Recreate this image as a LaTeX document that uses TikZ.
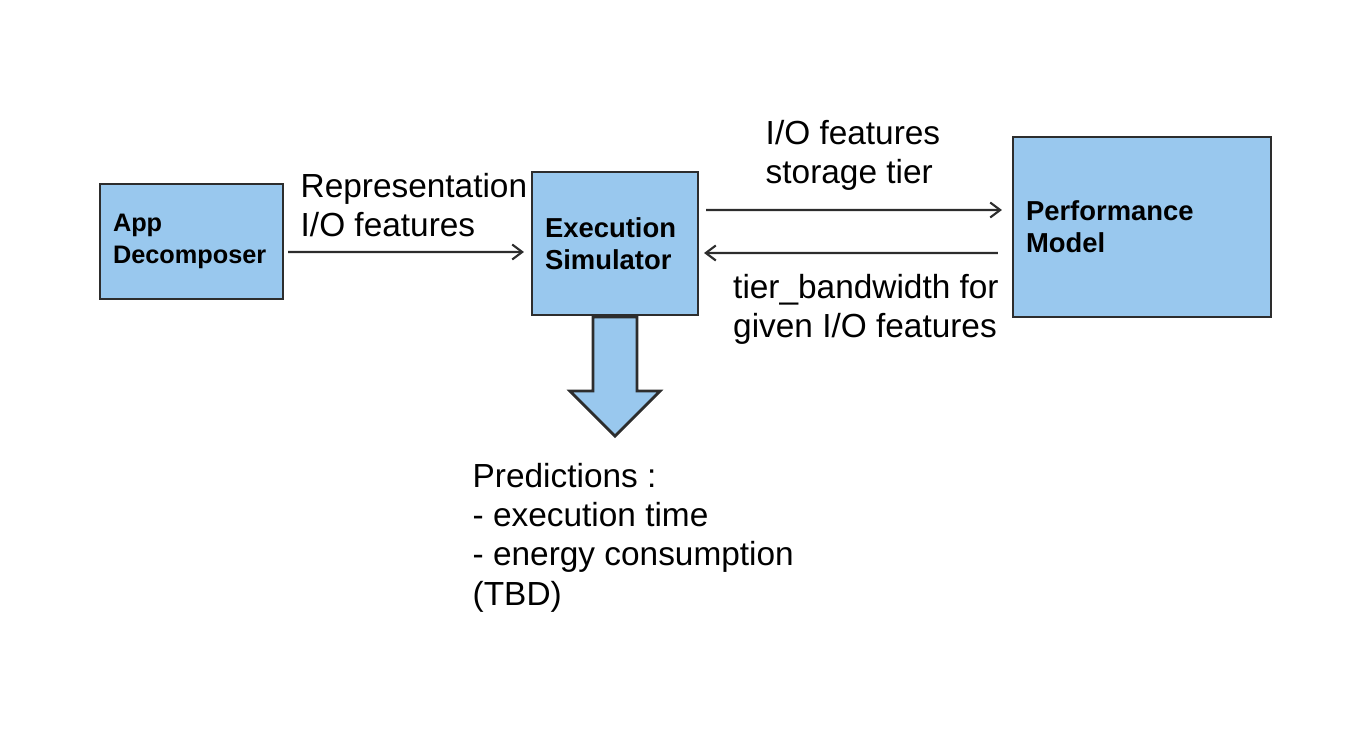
\documentclass[tikz,border=0pt]{standalone}
\usepackage{fontspec}
\setmainfont{Liberation Sans}
\usepackage{xcolor}
\usepackage{tikz}
\usetikzlibrary{calc}
\usetikzlibrary{positioning}
\usetikzlibrary{arrows.meta}
\definecolor{boxblue}{RGB}{153,200,238}
\definecolor{edgegray}{RGB}{45,45,45}

\begin{document}
\begin{tikzpicture}[
	block/.style={line width=0.6pt,draw=edgegray,fill=boxblue,inner xsep=0.13cm,inner ysep=0pt,align=left,font=\fontsize{7.8}{9.1}\bfseries\selectfont},
	flow/.style={line width=0.6pt,draw=edgegray,-{Straight Barb[length=1mm,width=1.5mm]}},
	fatarrow/.style={line width=0.8pt,draw=edgegray,fill=boxblue,line join=miter},
	note/.style={inner sep=0pt,anchor=base west,align=left,font=\fontsize{9.5}{11.1}\selectfont}]
	
	\useasboundingbox (0,0) rectangle (13.72,-7.31);
	
	% blocks
	\node[block,minimum width=1.83cm,minimum height=1.15cm,text width=1.57cm,font=\fontsize{7.2}{9.1}\bfseries\selectfont] (app) at (1.915,-2.415) {App\\Decomposer};
	\node[block,minimum width=1.66cm,minimum height=1.43cm,text width=1.40cm] (sim) at (6.15,-2.435) {Execution\\Simulator};
	\node[block,minimum width=2.58cm,minimum height=1.80cm,text width=2.32cm] (perf) at (11.42,-2.27) {Performance\\Model};
	
	%connections
	\draw[flow] ([shift={(0.04,-0.105)}]app.east) -- ([shift={(-0.07,-0.085)}]sim.west);
	\draw[flow] ([shift={(0.07,0.335)}]sim.east) -- ([shift={(-0.10,0.17)}]perf.west);
	\draw[flow] ([shift={(-0.14,-0.26)}]perf.west) -- ([shift={(0.05,-0.095)}]sim.east);
	
	%output arrow
	\draw[fatarrow] ([shift={(-0.22,-0.01)}]sim.south) -- ++(0,-0.74) -- ++(-0.23,0) -- ++(0.45,-0.45) -- ++(0.45,0.45) -- ++(-0.23,0) -- ++(0,0.74) -- cycle;
	
	%labels (placed at the baseline of their last line)
	\node[note] (replabel) at (3.00,-2.37) {Representation\\I/O features};
	\node[note] (featlabel) at (7.65,-1.84) {I/O features\\storage tier};
	\node[note] (bwlabel) at (7.325,-3.38) {tier\_bandwidth for\\given I/O features};
	\node[note] (predlabel) at (4.72,-6.05) {Predictions :\\- execution time\\- energy consumption\\(TBD)};
	
\end{tikzpicture}
\end{document}
